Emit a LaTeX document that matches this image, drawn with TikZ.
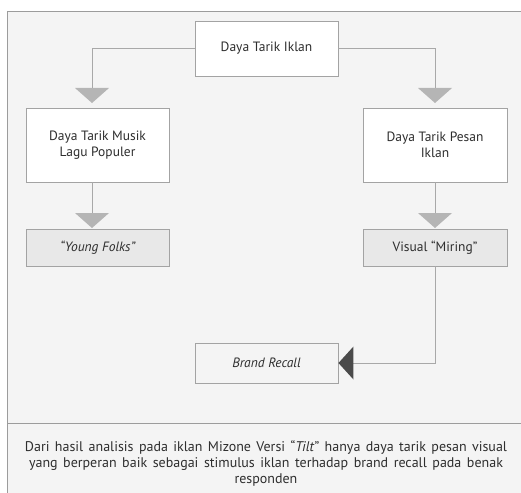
\documentclass[tikz,border=0pt]{standalone}
\usepackage{fontspec}
\setmainfont{PT Sans}
\usetikzlibrary{arrows.meta}
\definecolor{bgc}{HTML}{F4F4F4}
\definecolor{framec}{HTML}{9C9C9C}
\definecolor{boxc}{HTML}{A3A3A3}
\definecolor{linec}{HTML}{A8A8A8}
\definecolor{tric}{HTML}{B5B5B5}
\definecolor{darktri}{HTML}{4A4A4A}
\definecolor{txt}{HTML}{2E2E2E}
\definecolor{shade}{HTML}{E8E8E8}
\newcommand{\widespace}{\spaceskip=4.9pt plus 1pt minus 1pt\relax}
\begin{document}
\begin{tikzpicture}[x=1pt,y=-1pt,
  box/.style={draw=boxc, line width=0.9pt, fill=white, text=txt, align=center, font=\fontsize{13.5}{16}\selectfont, inner sep=0pt},
  conn/.style={draw=linec, line width=1pt},
  bigarrow/.style={-{Triangle[width=34pt,length=15pt,color=tric,fill=tric,line width=0pt]}},
  darkarrow/.style={-{Triangle[width=33pt,length=15pt,color=darktri,fill=darktri,line width=0pt]}}]
\useasboundingbox (0,0) rectangle (521,492);
\fill[white] (0,0) rectangle (521,492);
\draw[draw=framec, fill=bgc, line width=0.9pt] (7,11) rectangle (540,510);
\draw[draw=framec, line width=0.9pt] (7,423) -- (540,423);

\node[box, minimum width=143pt, minimum height=55pt] (top) at (266.5,48.5) {Daya Tarik Iklan};
\node[box, minimum width=143pt, minimum height=74pt] (left) at (97.5,145) {Daya Tarik Musik\\Lagu Populer};
\node[box, minimum width=144pt, minimum height=74pt] (right) at (435,145) {Daya Tarik Pesan\\Iklan};
\node[box, fill=shade, minimum width=143pt, minimum height=37pt] (young) at (97.5,247.5) {\itshape “Young Folks”};
\node[box, fill=shade, minimum width=144pt, minimum height=37pt] (visual) at (435,247.5) {Visual “Miring”};
\node[box, fill=bgc, minimum width=143pt, minimum height=40pt] (brand) at (266.5,363) {\itshape Brand Recall};

\coordinate (lt) at (92,103);
\coordinate (rt) at (435,103);
\coordinate (lb) at (92,228);
\coordinate (rb) at (435,228);
\draw[conn, bigarrow] (top.west) -| (lt);
\draw[conn, bigarrow] (top.east) -| (rt);
\draw[conn, bigarrow] (left.south -| lt) -- (lb);
\draw[conn, bigarrow] (right.south) -- (rb);
\draw[conn, darkarrow] (visual.south) |- (brand.east);

\node[text=txt, align=center, font=\fontsize{14}{16}\selectfont, execute at begin node=\widespace, text width=510pt] (note) at (266,463)
 {Dari hasil analisis pada iklan Mizone Versi “\textit{Tilt}” hanya daya tarik pesan visual\\
 yang berperan baik sebagai stimulus iklan terhadap brand recall pada benak\\ responden};
\end{tikzpicture}
\end{document}
